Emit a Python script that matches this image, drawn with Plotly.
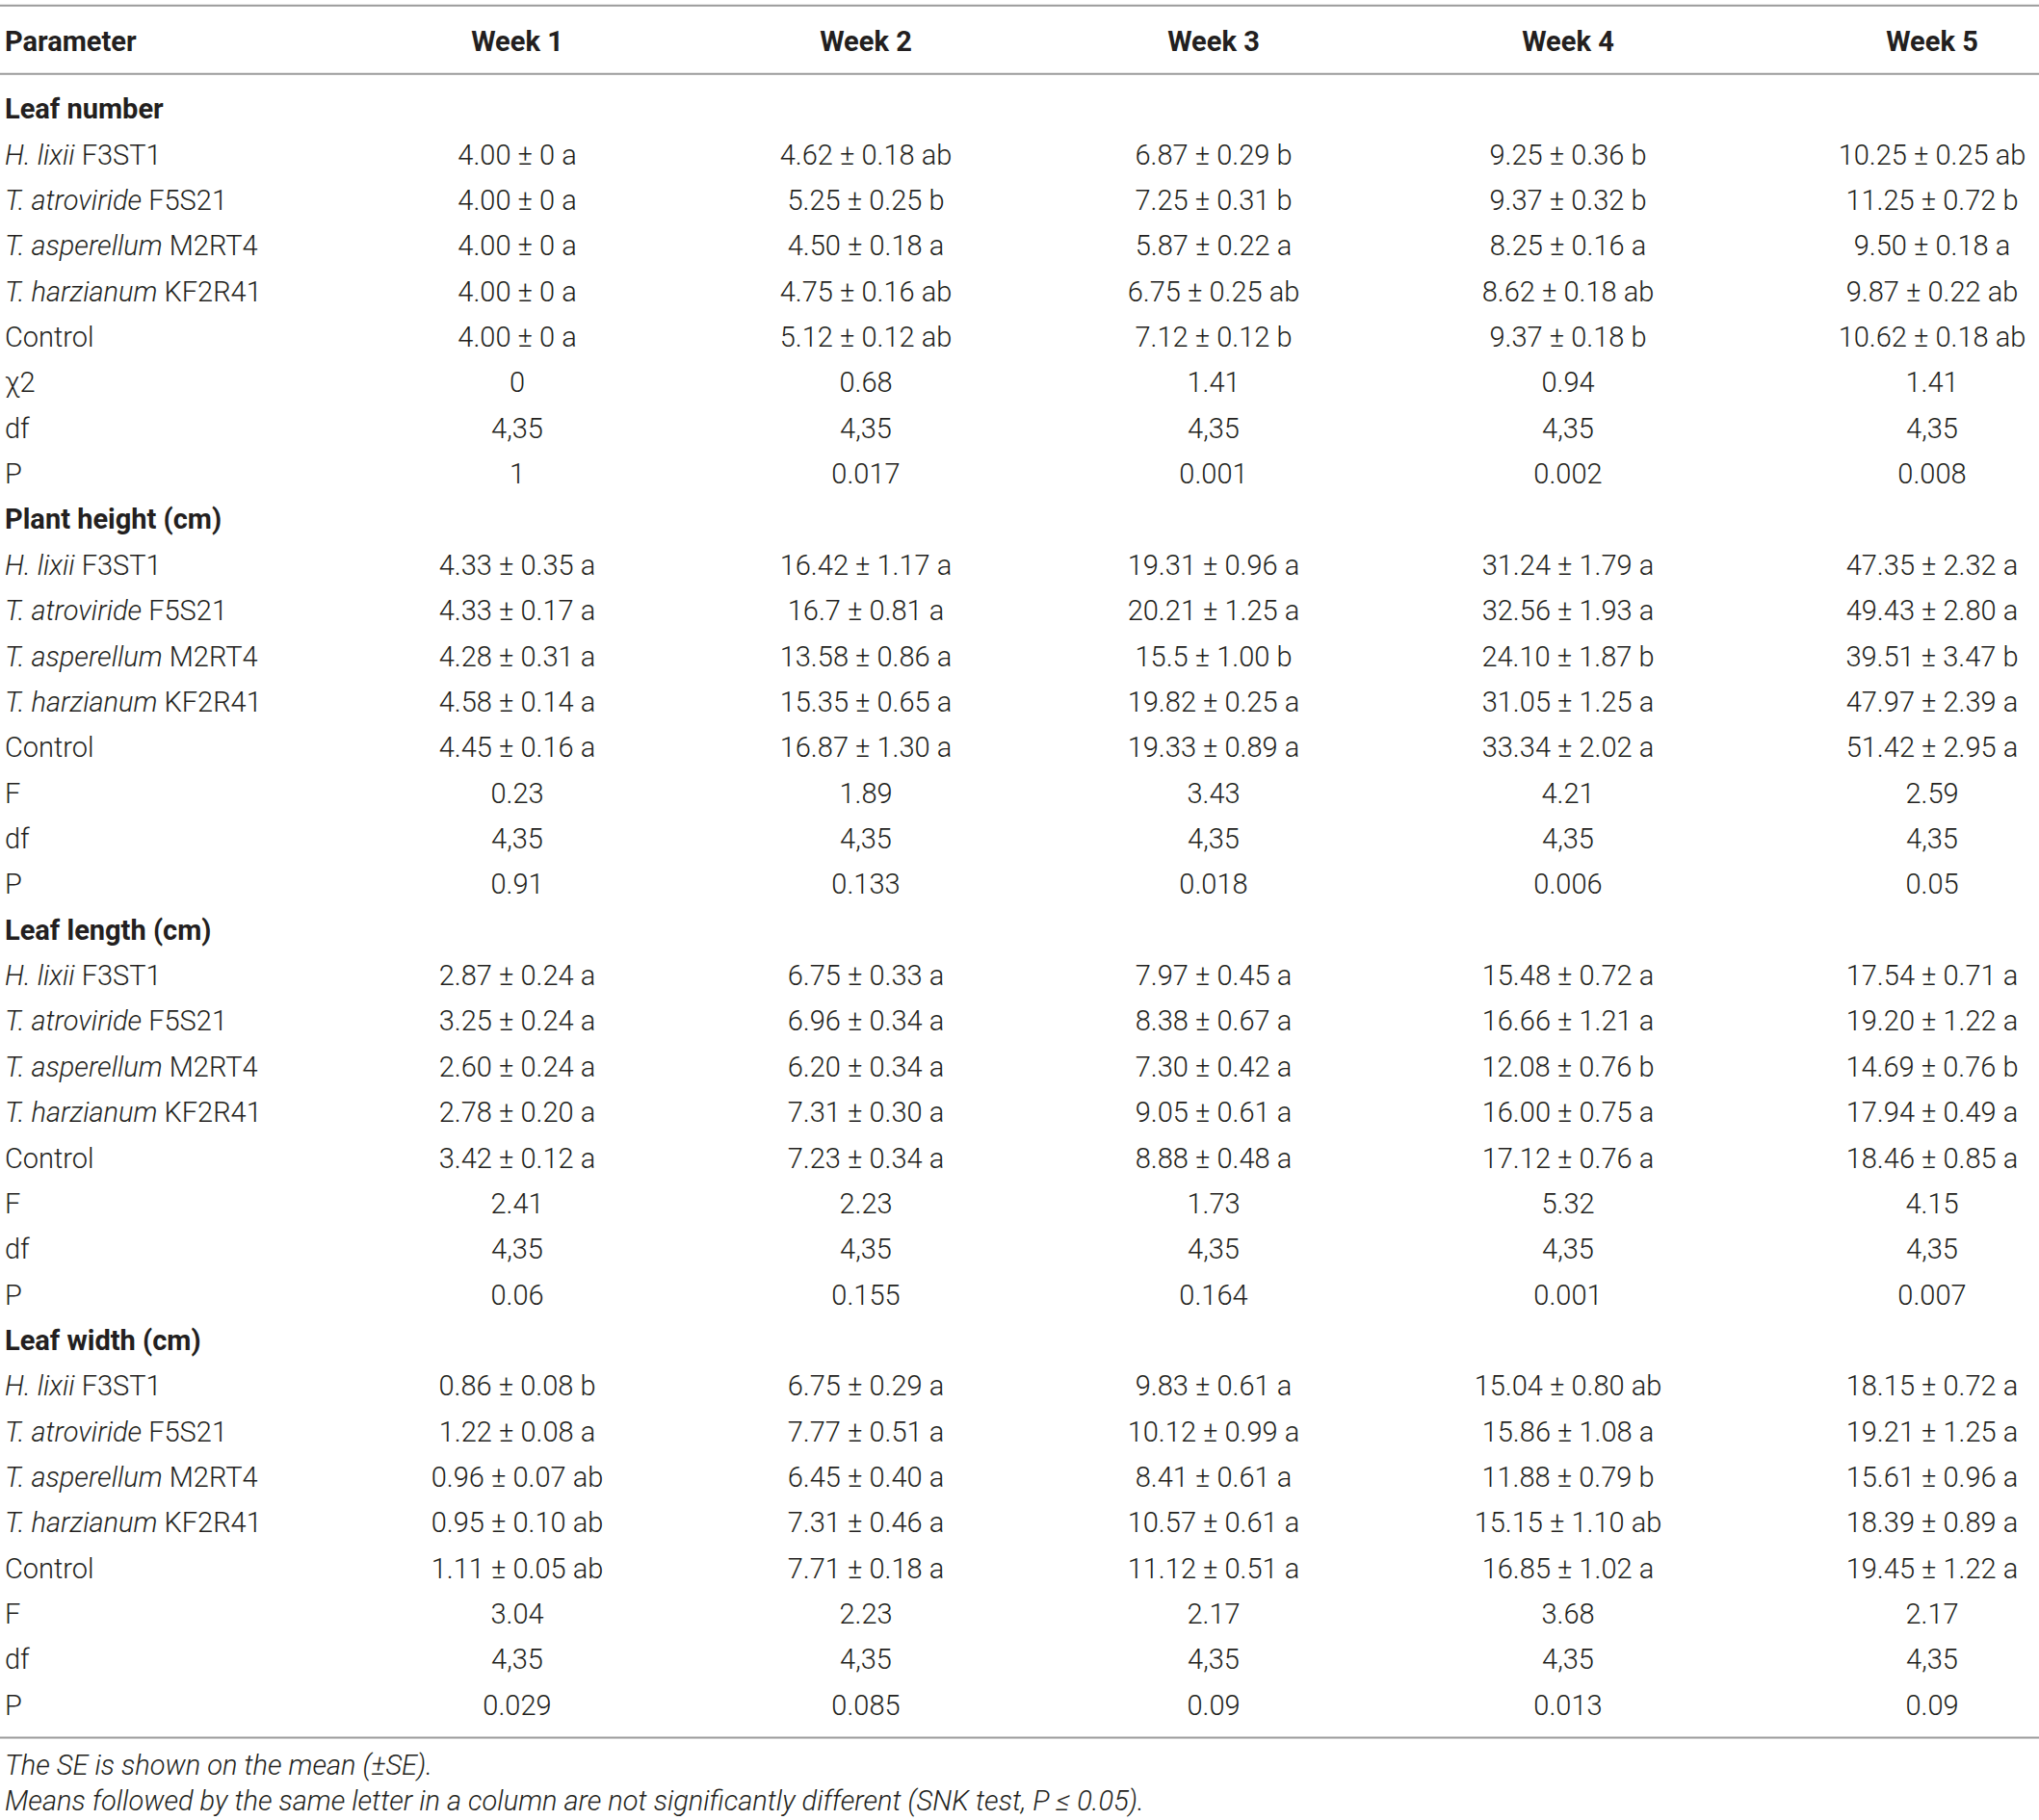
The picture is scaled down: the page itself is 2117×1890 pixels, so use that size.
import plotly.graph_objects as go

weeks = ["Week 1", "Week 2", "Week 3", "Week 4", "Week 5"]
treatments = ["<i>H. lixii</i> F3ST1", "<i>T. atroviride</i> F5S21", "<i>T. asperellum</i> M2RT4",
              "<i>T. harzianum</i> KF2R41", "Control"]

leaf_number = [
    ["4.00 ± 0 a", "4.62 ± 0.18 ab", "6.87 ± 0.29 b", "9.25 ± 0.36 b", "10.25 ± 0.25 ab"],
    ["4.00 ± 0 a", "5.25 ± 0.25 b", "7.25 ± 0.31 b", "9.37 ± 0.32 b", "11.25 ± 0.72 b"],
    ["4.00 ± 0 a", "4.50 ± 0.18 a", "5.87 ± 0.22 a", "8.25 ± 0.16 a", "9.50 ± 0.18 a"],
    ["4.00 ± 0 a", "4.75 ± 0.16 ab", "6.75 ± 0.25 ab", "8.62 ± 0.18 ab", "9.87 ± 0.22 ab"],
    ["4.00 ± 0 a", "5.12 ± 0.12 ab", "7.12 ± 0.12 b", "9.37 ± 0.18 b", "10.62 ± 0.18 ab"],
]
leaf_number_stats = [
    ["χ2", "0", "0.68", "1.41", "0.94", "1.41"],
    ["df", "4,35", "4,35", "4,35", "4,35", "4,35"],
    ["P", "1", "0.017", "0.001", "0.002", "0.008"],
]

plant_height = [
    ["4.33 ± 0.35 a", "16.42 ± 1.17 a", "19.31 ± 0.96 a", "31.24 ± 1.79 a", "47.35 ± 2.32 a"],
    ["4.33 ± 0.17 a", "16.7 ± 0.81 a", "20.21 ± 1.25 a", "32.56 ± 1.93 a", "49.43 ± 2.80 a"],
    ["4.28 ± 0.31 a", "13.58 ± 0.86 a", "15.5 ± 1.00 b", "24.10 ± 1.87 b", "39.51 ± 3.47 b"],
    ["4.58 ± 0.14 a", "15.35 ± 0.65 a", "19.82 ± 0.25 a", "31.05 ± 1.25 a", "47.97 ± 2.39 a"],
    ["4.45 ± 0.16 a", "16.87 ± 1.30 a", "19.33 ± 0.89 a", "33.34 ± 2.02 a", "51.42 ± 2.95 a"],
]
plant_height_stats = [
    ["F", "0.23", "1.89", "3.43", "4.21", "2.59"],
    ["df", "4,35", "4,35", "4,35", "4,35", "4,35"],
    ["P", "0.91", "0.133", "0.018", "0.006", "0.05"],
]

leaf_length = [
    ["2.87 ± 0.24 a", "6.75 ± 0.33 a", "7.97 ± 0.45 a", "15.48 ± 0.72 a", "17.54 ± 0.71 a"],
    ["3.25 ± 0.24 a", "6.96 ± 0.34 a", "8.38 ± 0.67 a", "16.66 ± 1.21 a", "19.20 ± 1.22 a"],
    ["2.60 ± 0.24 a", "6.20 ± 0.34 a", "7.30 ± 0.42 a", "12.08 ± 0.76 b", "14.69 ± 0.76 b"],
    ["2.78 ± 0.20 a", "7.31 ± 0.30 a", "9.05 ± 0.61 a", "16.00 ± 0.75 a", "17.94 ± 0.49 a"],
    ["3.42 ± 0.12 a", "7.23 ± 0.34 a", "8.88 ± 0.48 a", "17.12 ± 0.76 a", "18.46 ± 0.85 a"],
]
leaf_length_stats = [
    ["F", "2.41", "2.23", "1.73", "5.32", "4.15"],
    ["df", "4,35", "4,35", "4,35", "4,35", "4,35"],
    ["P", "0.06", "0.155", "0.164", "0.001", "0.007"],
]

leaf_width = [
    ["0.86 ± 0.08 b", "6.75 ± 0.29 a", "9.83 ± 0.61 a", "15.04 ± 0.80 ab", "18.15 ± 0.72 a"],
    ["1.22 ± 0.08 a", "7.77 ± 0.51 a", "10.12 ± 0.99 a", "15.86 ± 1.08 a", "19.21 ± 1.25 a"],
    ["0.96 ± 0.07 ab", "6.45 ± 0.40 a", "8.41 ± 0.61 a", "11.88 ± 0.79 b", "15.61 ± 0.96 a"],
    ["0.95 ± 0.10 ab", "7.31 ± 0.46 a", "10.57 ± 0.61 a", "15.15 ± 1.10 ab", "18.39 ± 0.89 a"],
    ["1.11 ± 0.05 ab", "7.71 ± 0.18 a", "11.12 ± 0.51 a", "16.85 ± 1.02 a", "19.45 ± 1.22 a"],
]
leaf_width_stats = [
    ["F", "3.04", "2.23", "2.17", "3.68", "2.17"],
    ["df", "4,35", "4,35", "4,35", "4,35", "4,35"],
    ["P", "0.029", "0.085", "0.09", "0.013", "0.09"],
]

sections = [
    ("Leaf number", leaf_number, leaf_number_stats),
    ("Plant height (cm)", plant_height, plant_height_stats),
    ("Leaf length (cm)", leaf_length, leaf_length_stats),
    ("Leaf width (cm)", leaf_width, leaf_width_stats),
]

footnotes = ["The SE is shown on the mean (±SE).",
             "Means followed by the same letter in a column are not significantly different (SNK test, P ≤ 0.05)."]

#%% build the table rows
rows = []
for title, vals, stats in sections:
    rows.append(["<b>" + title + "</b>"] + [""] * len(weeks))
    for name, v in zip(treatments, vals):
        rows.append([name] + v)
    for s in stats:
        rows.append(s)
columns = [list(c) for c in zip(*rows)]

#%% layout (pixel units on both axes)
W, H = 2117, 1890
col_x = [5, 537, 899, 1260, 1628, 2006]     # left edge of 1st col, centres of week cols
header_y = 45.5
first_row_y = 116
row_step = 47.36
rule_y = [5.7, 76.7, 1804.5]
foot_y = [1835.5, 1872.5]

txt_col = '#231f20'
line_col = '#9a9a9a'
fam = 'Roboto, Liberation Sans, Arial'
fnt = dict(family=fam, size=29, color=txt_col, weight=300)

row_y = [first_row_y + i * row_step for i in range(len(rows))]

fig = go.Figure()

# header
fig.add_trace(go.Scatter(
    x=[col_x[0]], y=[header_y], text=["<b>Parameter</b>"],
    mode='text', textposition='middle right', textfont=fnt, hoverinfo='skip'))
fig.add_trace(go.Scatter(
    x=col_x[1:], y=[header_y] * len(weeks), text=["<b>" + w + "</b>" for w in weeks],
    mode='text', textposition='middle center', textfont=fnt, hoverinfo='skip'))

# body columns
for j, col in enumerate(columns):
    fig.add_trace(go.Scatter(
        x=[col_x[j]] * len(col), y=row_y, text=col,
        mode='text', textposition='middle right' if j == 0 else 'middle center',
        textfont=fnt, hoverinfo='skip'))

# footnotes
fig.add_trace(go.Scatter(
    x=[col_x[0]] * len(footnotes), y=foot_y, text=["<i>" + t + "</i>" for t in footnotes],
    mode='text', textposition='middle right', textfont=fnt, hoverinfo='skip'))

# horizontal rules
for yy in rule_y:
    fig.add_shape(type='line', xref='x', yref='y', x0=0, x1=W, y0=yy, y1=yy,
                  line=dict(color=line_col, width=2))

fig.update_xaxes(range=[0, W], visible=False, fixedrange=True)
fig.update_yaxes(range=[H, 0], visible=False, fixedrange=True)
fig.update_layout(
    width=W, height=H,
    margin=dict(l=0, r=0, t=0, b=0),
    paper_bgcolor='white',
    plot_bgcolor='white',
    showlegend=False,
)

fig.write_html("out.html", config={'displayModeBar': False},
               post_script="document.body.style.margin='0px';")
